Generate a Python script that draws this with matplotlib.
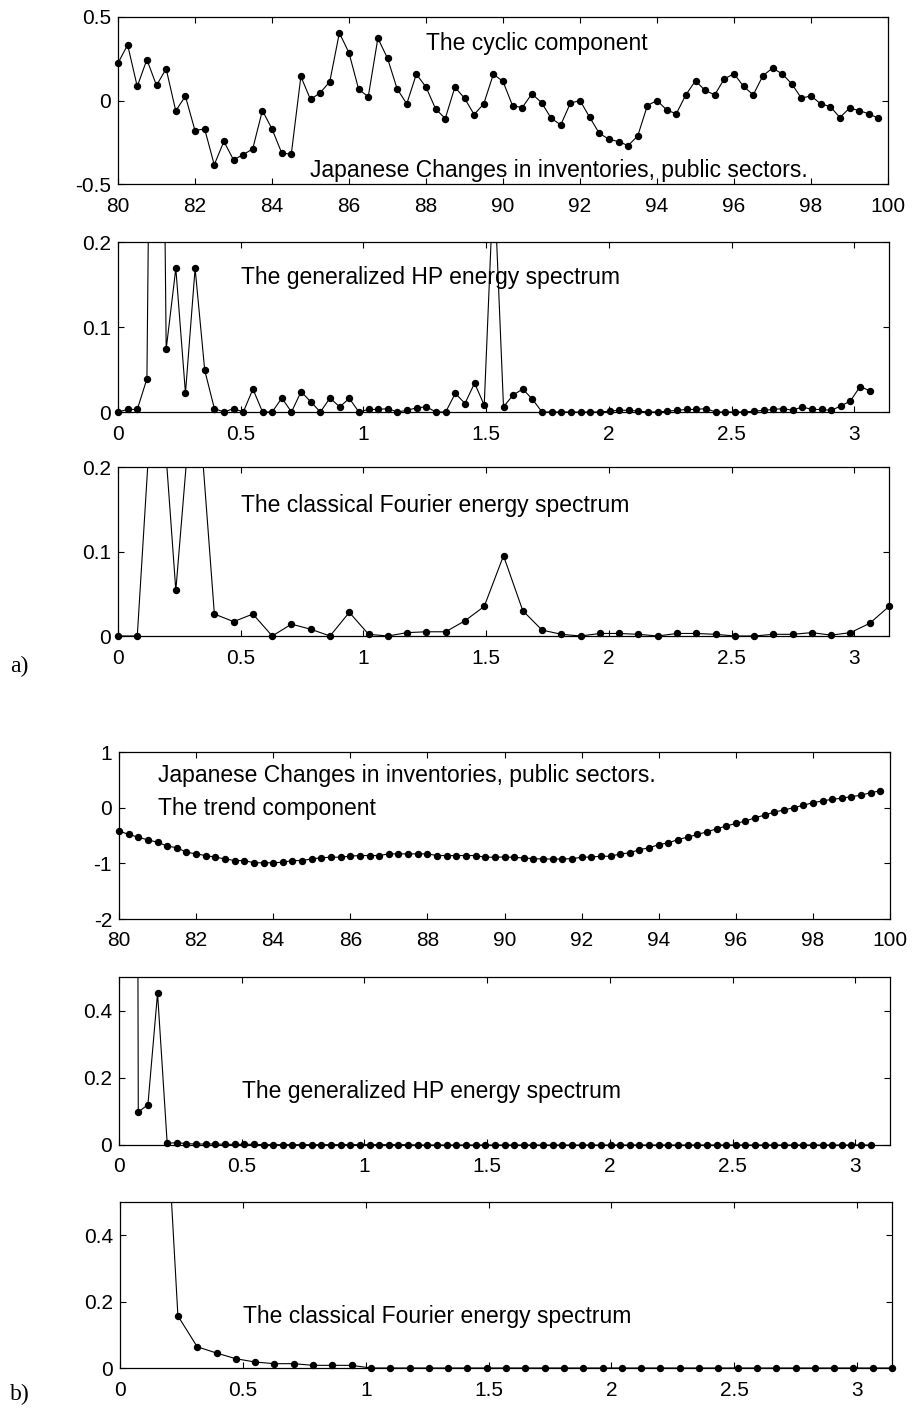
import numpy as np
import matplotlib
matplotlib.use("Agg")
import matplotlib.pyplot as plt
from matplotlib.ticker import FuncFormatter

# ---------------- data ----------------
years = 80 + np.arange(80) / 4.0

cyclic = [0.224, 0.333, 0.084, 0.245, 0.090, 0.190, -0.062, 0.026, -0.180, -0.170,
          -0.385, -0.245, -0.355, -0.325, -0.289, -0.060, -0.170, -0.313, -0.323, 0.144,
          0.006, 0.046, 0.112, 0.405, 0.285, 0.068, 0.022, 0.373, 0.253, 0.070,
          -0.020, 0.158, 0.080, -0.050, -0.108, 0.080, 0.014, -0.084, -0.020, 0.158,
          0.114, -0.032, -0.042, 0.040, -0.012, -0.106, -0.146, -0.016, 0.000, -0.100,
          -0.196, -0.232, -0.246, -0.270, -0.212, -0.030, 0.000, -0.056, -0.080, 0.034,
          0.118, 0.060, 0.034, 0.130, 0.160, 0.084, 0.034, 0.148, 0.194, 0.160,
          0.100, 0.014, 0.028, -0.020, -0.036, -0.102, -0.046, -0.060, -0.080, -0.106]

trend = [-0.42, -0.48, -0.53, -0.58, -0.62, -0.69, -0.72, -0.80, -0.83, -0.86,
         -0.89, -0.92, -0.95, -0.95, -0.99, -0.99, -0.99, -0.98, -0.95, -0.95,
         -0.92, -0.90, -0.89, -0.89, -0.87, -0.86, -0.86, -0.86, -0.83, -0.83,
         -0.83, -0.83, -0.83, -0.86, -0.86, -0.86, -0.86, -0.86, -0.89, -0.89,
         -0.886, -0.892, -0.904, -0.916, -0.922, -0.922, -0.922, -0.916, -0.892, -0.886,
         -0.873, -0.873, -0.831, -0.813, -0.753, -0.723, -0.663, -0.633, -0.572, -0.530,
         -0.482, -0.434, -0.380, -0.331, -0.283, -0.241, -0.181, -0.133, -0.078, -0.042,
         0.000, 0.042, 0.090, 0.120, 0.151, 0.169, 0.199, 0.223, 0.271, 0.301]

# frequency grids (radians)
n_hp = 79
n_four = 41
freq_hp = np.arange(n_hp) * 2 * np.pi / 160
freq_four = np.arange(n_four) * 2 * np.pi / 80

hp_cyc = [0.0, 0.003, 0.003, 0.039, 1.2, 0.074, 0.169, 0.022, 0.169, 0.049,
          0.004, 0.0, 0.004, 0.0, 0.027, 0.0, 0.0, 0.0165, 0.0, 0.024,
          0.012, 0.0, 0.0165, 0.006, 0.016, 0.0, 0.003, 0.003, 0.004, 0.0,
          0.002, 0.005, 0.006, 0.0, 0.0, 0.022, 0.010, 0.034, 0.008, 0.28,
          0.006, 0.020, 0.027, 0.015, 0.0, 0.0, 0.0, 0.0, 0.0, 0.0,
          0.0, 0.001, 0.002, 0.002, 0.001, 0.0, 0.0, 0.001, 0.002, 0.003,
          0.003, 0.004, 0.0, 0.0, 0.0, 0.0, 0.001, 0.002, 0.003, 0.004,
          0.002, 0.006, 0.003, 0.003, 0.002, 0.007, 0.013, 0.030, 0.025]

four_cyc = [0.0, 0.0, 0.37, 0.054, 0.33, 0.026, 0.017, 0.026, 0.0, 0.014,
            0.008, 0.0, 0.028, 0.002, 0.0, 0.004, 0.005, 0.005, 0.018, 0.035,
            0.095, 0.030, 0.007, 0.002, 0.0, 0.003, 0.003, 0.002, 0.0, 0.003,
            0.003, 0.002, 0.0, 0.0, 0.002, 0.002, 0.004, 0.001, 0.004, 0.015,
            0.035]

hp_trend = [10.0, 12.0, 0.098, 0.12, 0.452, 0.005, 0.007, 0.004, 0.003, 0.003,
            0.003, 0.002, 0.002, 0.002, 0.002, 0.001, 0.001, 0.001, 0.001, 0.001,
            0.001, 0.001, 0.001, 0.001, 0.001, 0.001, 0.001, 0.001, 0.001, 0.001,
            0.001, 0.0, 0.0, 0.0, 0.0, 0.0, 0.0, 0.0, 0.0, 0.0,
            0.0, 0.0, 0.0, 0.0, 0.0, 0.0, 0.0, 0.0, 0.0, 0.0,
            0.0, 0.0, 0.0, 0.0, 0.0, 0.0, 0.0, 0.0, 0.0, 0.0,
            0.0, 0.0, 0.0, 0.0, 0.0, 0.0, 0.0, 0.0, 0.0, 0.0,
            0.0, 0.0, 0.0, 0.0, 0.0, 0.0, 0.0, 0.0, 0.0]

four_trend = [20.0, 5.0, 1.2, 0.157, 0.064, 0.045, 0.028, 0.018, 0.013, 0.013,
              0.008, 0.008, 0.008, 0.0, 0.0, 0.0, 0.0, 0.0, 0.0, 0.0,
              0.0, 0.0, 0.0, 0.0, 0.0, 0.0, 0.0, 0.0, 0.0, 0.0,
              0.0, 0.0, 0.0, 0.0, 0.0, 0.0, 0.0, 0.0, 0.0, 0.0,
              0.0]

year_ticks = [80, 82, 84, 86, 88, 90, 92, 94, 96, 98, 100]
freq_ticks = [0, 0.5, 1, 1.5, 2, 2.5, 3]

txt_cyc = "The cyclic component"
txt_title = "Japanese Changes in inventories, public sectors."
txt_trend = "The trend component"
txt_hp = "The generalized HP energy spectrum"
txt_four = "The classical Fourier energy spectrum"

# ---------------- styling ----------------
plt.rcParams['font.family'] = ['Liberation Sans', 'DejaVu Sans']
TICK_FS = 15
TEXT_FS = 16.5
W, H = 914, 1420
fig = plt.figure(figsize=(W / 100, H / 100), dpi=100)


def ax_at(left, top, right, bottom):
    return fig.add_axes([left / W, 1 - bottom / H, (right - left) / W, (bottom - top) / H])


fmt = FuncFormatter(lambda v, p: ('%g' % v))


def style(ax):
    ax.tick_params(direction='in', top=True, right=True, length=4, width=0.8,
                   labelsize=TICK_FS)
    ax.tick_params(axis='x', pad=9)
    ax.tick_params(axis='y', pad=5)
    for s in ax.spines.values():
        s.set_linewidth(0.9)
    ax.xaxis.set_major_formatter(fmt)
    ax.yaxis.set_major_formatter(fmt)


def series(ax, x, y, ymax, clip=True):
    x = np.asarray(x)
    y = np.asarray(y)
    ax.plot(x, y, '-', color='black', lw=0.8, clip_on=clip, zorder=2)
    m = y <= ymax
    ax.plot(x[m], y[m], 'o', color='black', ms=4.3, clip_on=False, zorder=3)


# Panel 1: cyclic component
ax1 = ax_at(118, 17, 888, 184)
series(ax1, years, cyclic, 0.5, clip=False)
ax1.set_xlim(80, 100)
ax1.set_ylim(-0.5, 0.5)
ax1.set_xticks(year_ticks)
ax1.set_yticks([-0.5, 0, 0.5])
style(ax1)
ax1.text(88.0, 0.34, txt_cyc, fontsize=TEXT_FS, va='center', ha='left')
ax1.text(85.0, -0.42, txt_title, fontsize=TEXT_FS, va='center', ha='left')

# Panel 2: HP spectrum of cycle
ax2 = ax_at(118, 242, 889, 412)
series(ax2, freq_hp, hp_cyc, 0.2)
ax2.set_xlim(0, np.pi)
ax2.set_ylim(0, 0.2)
ax2.set_xticks(freq_ticks)
ax2.set_yticks([0, 0.1, 0.2])
style(ax2)
ax2.text(0.5, 0.158, txt_hp, fontsize=TEXT_FS, va='center', ha='left')

# Panel 3: Fourier spectrum of cycle
ax3 = ax_at(118, 467, 889, 636)
series(ax3, freq_four, four_cyc, 0.2)
ax3.set_xlim(0, np.pi)
ax3.set_ylim(0, 0.2)
ax3.set_xticks(freq_ticks)
ax3.set_yticks([0, 0.1, 0.2])
style(ax3)
ax3.text(0.5, 0.155, txt_four, fontsize=TEXT_FS, va='center', ha='left')

fig.text(10 / W, 1 - 666 / H, "a)", fontsize=17, family=['Liberation Serif'], va='center')

# Panel 4: trend component
ax4 = ax_at(119, 752, 890, 919)
series(ax4, years, trend, 1.0, clip=False)
ax4.set_xlim(80, 100)
ax4.set_ylim(-2, 1)
ax4.set_xticks(year_ticks)
ax4.set_yticks([-2, -1, 0, 1])
style(ax4)
ax4.text(81.0, 0.58, txt_title, fontsize=TEXT_FS, va='center', ha='left')
ax4.text(81.0, -0.02, txt_trend, fontsize=TEXT_FS, va='center', ha='left')

# Panel 5: HP spectrum of trend
ax5 = ax_at(119, 977, 890, 1145)
series(ax5, freq_hp, hp_trend, 0.5)
ax5.set_xlim(0, np.pi)
ax5.set_ylim(0, 0.5)
ax5.set_xticks(freq_ticks)
ax5.set_yticks([0, 0.2, 0.4])
style(ax5)
ax5.text(0.5, 0.16, txt_hp, fontsize=TEXT_FS, va='center', ha='left')

# Panel 6: Fourier spectrum of trend
ax6 = ax_at(120, 1202, 892, 1368)
series(ax6, freq_four, four_trend, 0.5)
ax6.set_xlim(0, np.pi)
ax6.set_ylim(0, 0.5)
ax6.set_xticks(freq_ticks)
ax6.set_yticks([0, 0.2, 0.4])
style(ax6)
ax6.text(0.5, 0.155, txt_four, fontsize=TEXT_FS, va='center', ha='left')

fig.text(10 / W, 1 - 1394 / H, "b)", fontsize=17, family=['Liberation Serif'], va='center')

fig.savefig("out.png", dpi=100)
